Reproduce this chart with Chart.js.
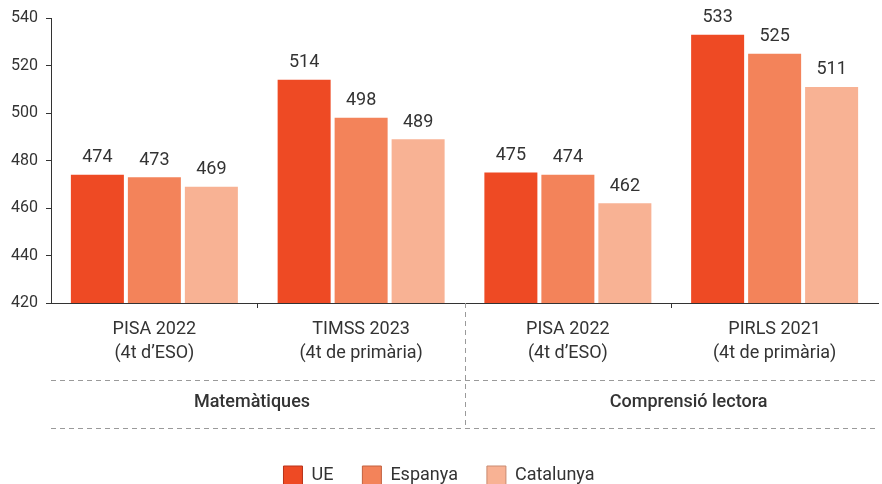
<!DOCTYPE html>
<html>
<head>
<meta charset="utf-8">
<script src="https://cdn.jsdelivr.net/npm/chart.js@4/dist/chart.umd.min.js"></script>
<style>
  html, body { margin: 0; padding: 0; background: #ffffff; }
  #wrap { width: 882px; height: 484px; }
</style>
</head>
<body>
<div id="wrap"><canvas id="c" width="882" height="484"></canvas></div>
<script>
// ---- data ----
const categories = [
  ['PISA 2022', '(4t d’ESO)'],
  ['TIMSS 2023', '(4t de primària)'],
  ['PISA 2022', '(4t d’ESO)'],
  ['PIRLS 2021', '(4t de primària)']
];
const groups = ['Matemàtiques', 'Comprensió lectora'];
const seriesNames = ['UE', 'Espanya', 'Catalunya'];
const ueValues = [474, 514, 475, 533];
const espanyaValues = [473, 498, 474, 525];
const catalunyaValues = [469, 489, 462, 511];
const yTicks = [420, 440, 460, 480, 500, 520, 540];

const colors = ['#EE4A24', '#F3835A', '#F8B294'];
const borderCols = ['#B8331A', '#C2603F', '#C98A70'];
const FONT = 'Roboto, "Noto Sans", sans-serif';
const TXT = '#333333';
const LEGEND_H = 47;

const overlay = {
  id: 'overlay',
  afterInit(chart) {
    const lg = chart.legend;
    if (lg) {
      const orig = lg.fit.bind(lg);
      lg.fit = function () { orig(); this.height = LEGEND_H; };
    }
  },
  afterDatasetsDraw(chart) {
    const ctx = chart.ctx;
    const ca = chart.chartArea;
    const xs = chart.scales.x;
    ctx.save();
    // value labels
    ctx.font = '18px ' + FONT;
    ctx.fillStyle = TXT;
    ctx.textAlign = 'center';
    ctx.textBaseline = 'bottom';
    chart.data.datasets.forEach((ds, di) => {
      const meta = chart.getDatasetMeta(di);
      meta.data.forEach((bar, i) => {
        ctx.fillText(String(ds.data[i]), bar.x, bar.y - 8);
      });
    });
    // dashed separators
    const boundary = (xs.getPixelForValue(1) + xs.getPixelForValue(2)) / 2;
    const y1 = ca.bottom + 77;
    const y2 = ca.bottom + 125;
    ctx.strokeStyle = '#9a9a9a';
    ctx.lineWidth = 1;
    ctx.setLineDash([5, 4]);
    [y1, y2].forEach(y => {
      ctx.beginPath();
      ctx.moveTo(ca.left, Math.round(y) + 0.5);
      ctx.lineTo(ca.right, Math.round(y) + 0.5);
      ctx.stroke();
    });
    ctx.beginPath();
    ctx.moveTo(Math.round(boundary) + 0.5, ca.bottom);
    ctx.lineTo(Math.round(boundary) + 0.5, y2);
    ctx.stroke();
    ctx.setLineDash([]);
    // group labels
    ctx.font = '500 18px ' + FONT;
    ctx.textBaseline = 'middle';
    const w = ca.right - ca.left;
    const gx = [ca.left + 0.243 * w, ca.left + 0.771 * w];
    groups.forEach((g, i) => ctx.fillText(g, gx[i], (y1 + y2) / 2 - 2));
    ctx.restore();
  }
};

new Chart(document.getElementById('c'), {
  type: 'bar',
  data: {
    labels: categories,
    datasets: [
      { label: seriesNames[0], data: ueValues, backgroundColor: colors[0], borderWidth: 0 },
      { label: seriesNames[1], data: espanyaValues, backgroundColor: colors[1], borderWidth: 0 },
      { label: seriesNames[2], data: catalunyaValues, backgroundColor: colors[2], borderWidth: 0 }
    ]
  },
  options: {
    responsive: false,
    animation: false,
    devicePixelRatio: 1,
    categoryPercentage: 0.827,
    barPercentage: 0.93,
    layout: { padding: { top: 18, right: 4, left: 0, bottom: 0 } },
    plugins: {
      legend: {
        position: 'bottom',
        labels: {
          font: { family: FONT, size: 18 },
          color: TXT,
          boxWidth: 19,
          boxHeight: 19,
          padding: 29,
          generateLabels(chart) {
            const items = Chart.defaults.plugins.legend.labels.generateLabels(chart);
            items.forEach((it, i) => { it.lineWidth = 1; it.strokeStyle = borderCols[i]; });
            return items;
          }
        }
      },
      tooltip: { enabled: false }
    },
    scales: {
      y: {
        min: 420, max: 540,
        afterFit(scale) { scale.width = 51; },
        afterBuildTicks(scale) { scale.ticks = yTicks.map(v => ({ value: v })); },
        ticks: { font: { family: FONT, size: 16 }, color: TXT, padding: 8 },
        grid: { drawOnChartArea: false, tickLength: 5, color: '#333' },
        border: { color: '#333', width: 1 }
      },
      x: {
        afterFit(scale) { scale.height = 134; },
        ticks: { font: { family: FONT, size: 18, lineHeight: 1.333 }, color: TXT, padding: 10, maxRotation: 0, autoSkip: false },
        grid: {
          drawOnChartArea: false, tickLength: 5, offset: true,
          color: (c) => (c.index === 1 || c.index === 3) ? '#333' : 'rgba(0,0,0,0)'
        },
        border: { color: '#333', width: 1 }
      }
    }
  },
  plugins: [overlay]
});
</script>
</body>
</html>
